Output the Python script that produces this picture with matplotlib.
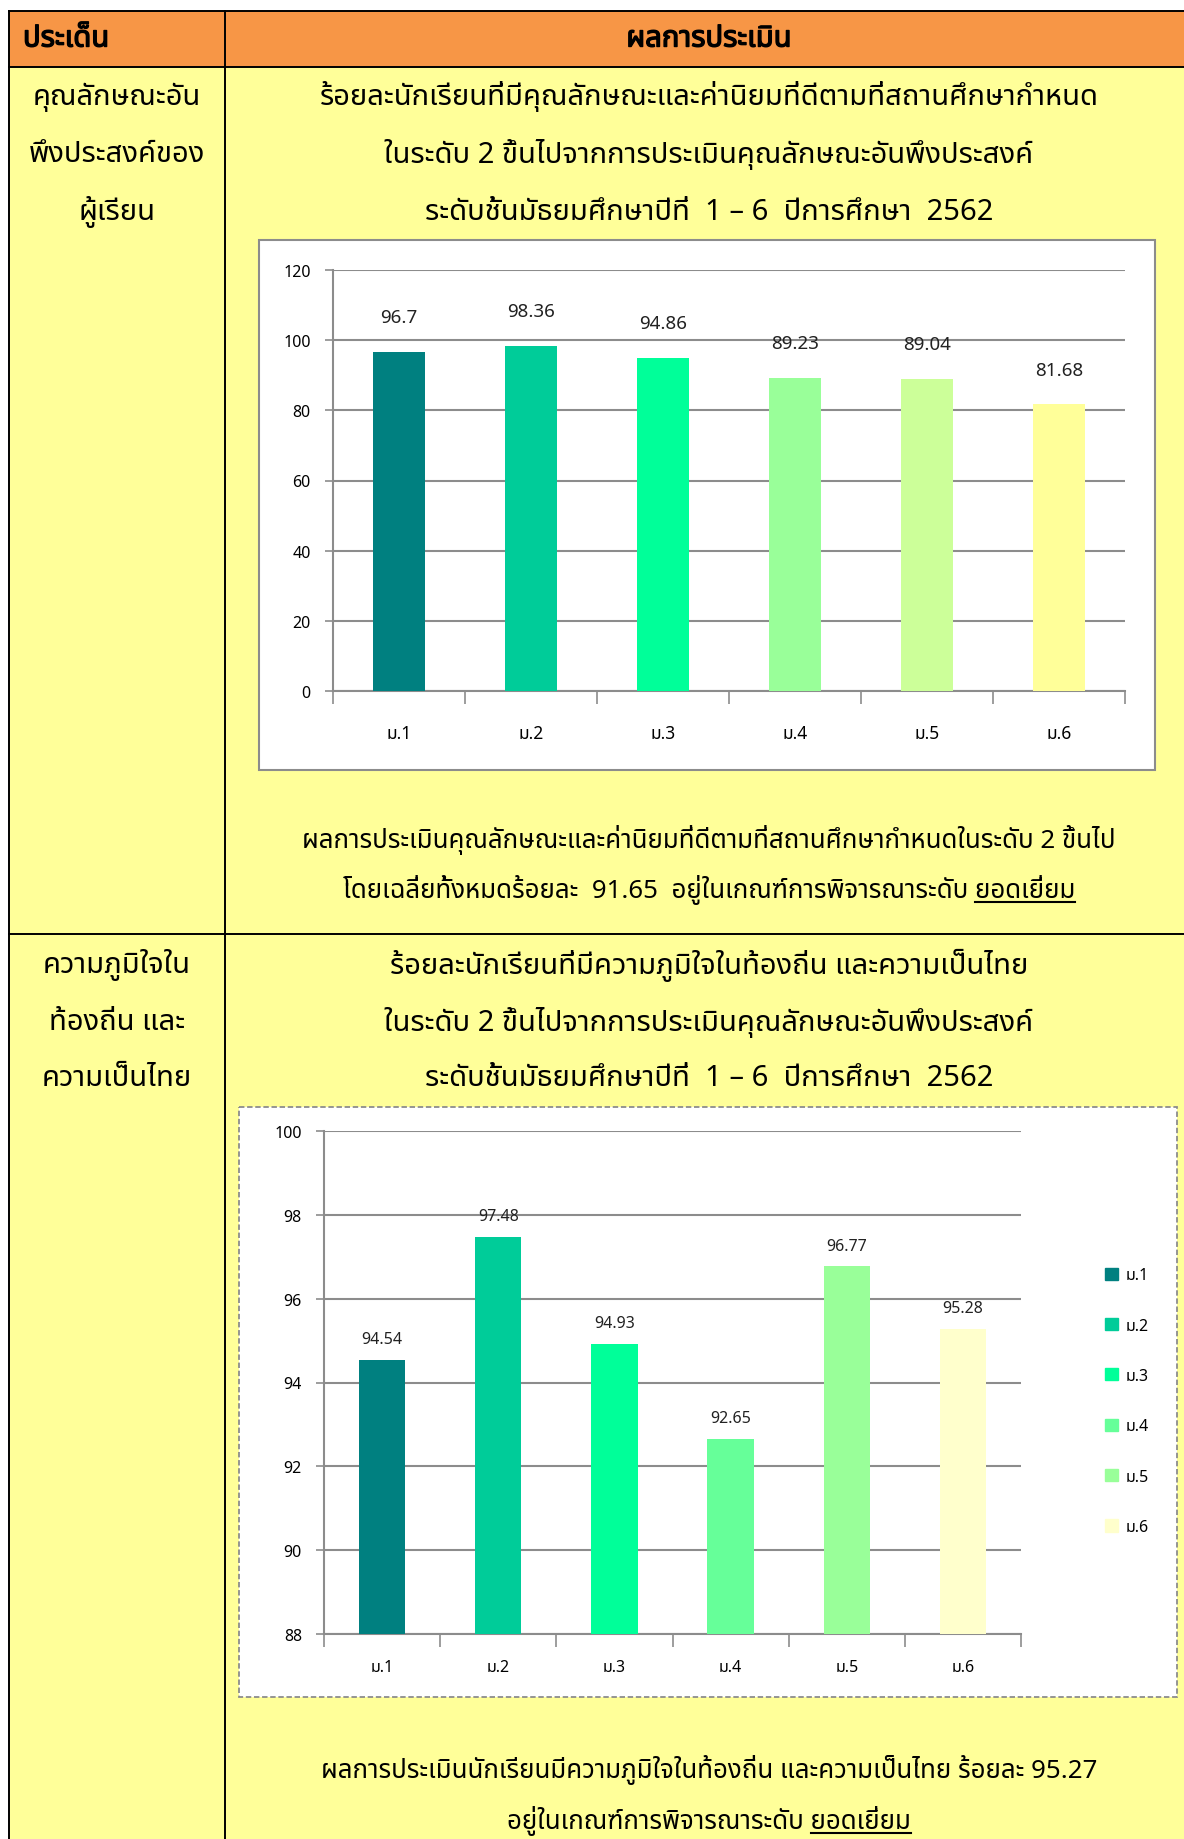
import matplotlib
matplotlib.use("Agg")
import matplotlib.pyplot as plt
from matplotlib import font_manager
from matplotlib.ft2font import FT2Font
from matplotlib.patches import Rectangle
import matplotlib.patheffects as pe

# ข้อมูล
levels = ['ม.1', 'ม.2', 'ม.3', 'ม.4', 'ม.5', 'ม.6']
values1 = [96.7, 98.36, 94.86, 89.23, 89.04, 81.68]
values2 = [94.54, 97.48, 94.93, 92.65, 96.77, 95.28]
colors1 = ['#008080', '#00CC99', '#00FF99', '#99FF99', '#CCFF99', '#FFFF99']
colors2 = ['#008080', '#00CC99', '#00FF99', '#66FF99', '#99FF99', '#FFFFCC']
yticks1 = [0, 20, 40, 60, 80, 100, 120]
yticks2 = [88, 90, 92, 94, 96, 98, 100]

header = ['ประเด็น', 'ผลการประเมิน']
topic1 = ['คุณลักษณะอัน', 'พึงประสงค์ของ', 'ผู้เรียน']
title1 = ['ร้อยละนักเรียนที่มีคุณลักษณะและค่านิยมที่ดีตามที่สถานศึกษากำหนด',
          'ในระดับ 2 ขึ้นไปจากการประเมินคุณลักษณะอันพึงประสงค์',
          'ระดับชั้นมัธยมศึกษาปีที่  1 – 6  ปีการศึกษา  2562']
summary1 = ['ผลการประเมินคุณลักษณะและค่านิยมที่ดีตามที่สถานศึกษากำหนดในระดับ 2 ขึ้นไป',
            'โดยเฉลี่ยทั้งหมดร้อยละ  91.65  อยู่ในเกณฑ์การพิจารณาระดับ ยอดเยี่ยม']
topic2 = ['ความภูมิใจใน', 'ท้องถิ่น และ', 'ความเป็นไทย']
title2 = ['ร้อยละนักเรียนที่มีความภูมิใจในท้องถิ่น และความเป็นไทย',
          'ในระดับ 2 ขึ้นไปจากการประเมินคุณลักษณะอันพึงประสงค์',
          'ระดับชั้นมัธยมศึกษาปีที่  1 – 6  ปีการศึกษา  2562']
summary2 = ['ผลการประเมินนักเรียนมีความภูมิใจในท้องถิ่น และความเป็นไทย ร้อยละ 95.27',
            'อยู่ในเกณฑ์การพิจารณาระดับ ยอดเยี่ยม']
underlined = 'ยอดเยี่ยม'


# หาฟอนต์ที่มีอักษรไทย
def find_thai_font():
    found = []
    for path in font_manager.findSystemFonts():
        try:
            f = FT2Font(path)
            if 0x0E01 in f.get_charmap():
                found.append(f.family_name)
        except Exception:
            pass
    prefer = ['Noto Sans Thai', 'Noto Sans Thai UI', 'Sarabun', 'TH Sarabun New',
              'Loma', 'Garuda', 'Tlwg Typo', 'Norasi', 'Kinnari']
    for p in prefer:
        if p in found:
            return p
    return found[0] if found else None


thai = find_thai_font()
families = ([thai] if thai else []) + ['DejaVu Sans']
plt.rcParams['font.family'] = families

W, H = 1184, 1840
fig = plt.figure(figsize=(W / 100, H / 100), dpi=100)


def rect(x0, y0, x1, y1):
    return [x0 / W, 1 - y1 / H, (x1 - x0) / W, (y1 - y0) / H]


# พื้นหลังตาราง
bg = fig.add_axes([0, 0, 1, 1])
bg.set_xlim(0, W)
bg.set_ylim(H, 0)
bg.axis('off')

bg.add_patch(Rectangle((9, 12), W - 9, 56, facecolor='#F79646', edgecolor='none'))
bg.add_patch(Rectangle((9, 68), W - 9, H - 68, facecolor='#FFFF99', edgecolor='none'))
lw = 1.4
bg.plot([9, W], [12, 12], color='black', lw=lw)
bg.plot([9, W], [68, 68], color='black', lw=lw)
bg.plot([9, W], [935, 935], color='black', lw=lw)
bg.plot([9, 9], [12, H], color='black', lw=lw)
bg.plot([225, 225], [12, H], color='black', lw=lw)

bold = [pe.withStroke(linewidth=1.0, foreground='black')]
bg.text(23, 40, header[0], fontsize=21, ha='left', va='center', path_effects=bold)
bg.text(709, 40, header[1], fontsize=21, ha='center', va='center', path_effects=bold)

fs = 21
for txt, y in zip(topic1, [97, 155, 212]):
    bg.text(117, y, txt, fontsize=fs, ha='center', va='center')
for txt, y in zip(title1, [97, 155, 212]):
    bg.text(709, y, txt, fontsize=fs, ha='center', va='center')
for txt, y in zip(topic2, [965, 1022, 1079]):
    bg.text(117, y, txt, fontsize=fs, ha='center', va='center')
for txt, y in zip(title2, [965, 1022, 1079]):
    bg.text(709, y, txt, fontsize=fs, ha='center', va='center')

sfs = 18.6
summ_texts = []
for txt, y in zip(summary1, [840, 890]):
    summ_texts.append(bg.text(709, y, txt, fontsize=sfs, ha='center', va='center'))
for txt, y in zip(summary2, [1770, 1821]):
    summ_texts.append(bg.text(709, y, txt, fontsize=sfs, ha='center', va='center'))

# กรอบกราฟ
bg.add_patch(Rectangle((259, 241), 1155 - 259, 771 - 241, facecolor='white',
                       edgecolor='#8C8C8C', lw=1.5))
bg.add_patch(Rectangle((239, 1108), 1177 - 239, 1698 - 1108, facecolor='white',
                       edgecolor='#8C8C8C', lw=1.3, linestyle=(0, (3, 1.5))))

x = list(range(len(levels)))


def style_axes(ax, ticks, lo, hi):
    ax.set_xlim(-0.5, len(levels) - 0.5)
    ax.set_ylim(lo, hi)
    ax.set_yticks(ticks)
    ax.grid(axis='y', color='#8C8C8C', lw=1.5)
    ax.set_axisbelow(True)
    for s in ['top', 'right']:
        ax.spines[s].set_visible(False)
    for s in ['left', 'bottom']:
        ax.spines[s].set_color('#8C8C8C')
        ax.spines[s].set_linewidth(1.5)
    ax.set_xticks([i - 0.5 for i in range(len(levels) + 1)])
    ax.set_xticklabels([])
    ax.set_xticks(x, minor=True)
    ax.set_xticklabels(levels, minor=True)
    ax.tick_params(axis='x', which='major', length=9, color='#8C8C8C', width=1.2)
    ax.tick_params(axis='x', which='minor', length=0, labelsize=12.5, pad=24)
    ax.tick_params(axis='y', length=6, color='#8C8C8C', width=1.2, labelsize=11.5, pad=10)
    ax.patch.set_alpha(0)


# กราฟที่ 1
ax1 = fig.add_axes(rect(333, 271, 1125, 692))
ax1.bar(x, values1, width=0.4, color=colors1, zorder=3)
style_axes(ax1, yticks1, 0, 120)
for xi, v in zip(x, values1):
    ax1.annotate(f'{v:g}', (xi, v), xytext=(0, 25), textcoords='offset points',
                 ha='center', va='center', fontsize=13.5, color='#222222')

# กราฟที่ 2
ax2 = fig.add_axes(rect(324, 1132, 1021, 1635))
ax2.bar(x, values2, width=0.4, color=colors2, zorder=3)
style_axes(ax2, yticks2, 88, 100)
ax2.tick_params(axis='x', which='minor', labelsize=11.5, pad=18)
for xi, v in zip(x, values2):
    ax2.annotate(f'{v:g}', (xi, v), xytext=(0, 15), textcoords='offset points',
                 ha='center', va='center', fontsize=11.5, color='#222222')
handles = [Rectangle((0, 0), 1, 1, color=c) for c in colors2]
ax2.legend(handles, levels, loc='center left', bbox_to_anchor=(1.1, 0.463),
           frameon=False, fontsize=11.5, handlelength=0.8, handleheight=0.8,
           handletextpad=0.5, labelspacing=2.15)

# ขีดเส้นใต้คำว่า ยอดเยี่ยม
fig.canvas.draw()
renderer = fig.canvas.get_renderer()
inv = bg.transData.inverted()
for t in summ_texts:
    if t.get_text().endswith(underlined):
        bb = t.get_window_extent(renderer)
        probe = bg.text(0, 0, underlined, fontsize=sfs)
        wb = probe.get_window_extent(renderer)
        probe.remove()
        (x0, y0), (x1, _) = inv.transform([(bb.x1 - wb.width, bb.y0), (bb.x1, bb.y0)])
        bg.plot([x0, x1], [y0 - 2, y0 - 2], color='black', lw=1.5)

fig.savefig('out.png', dpi=100)
